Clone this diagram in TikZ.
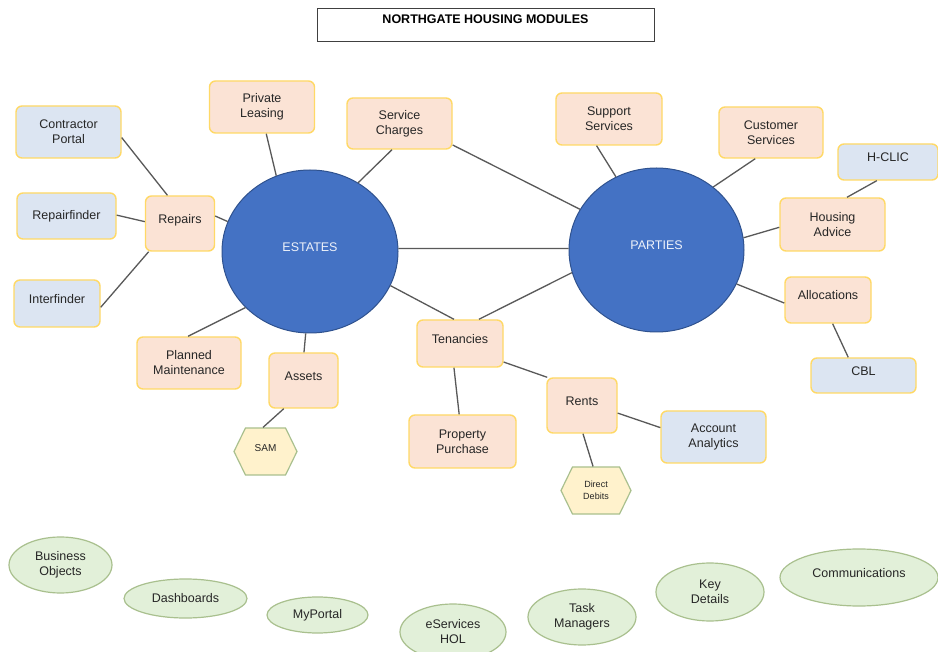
\documentclass[tikz,border=0pt]{standalone}
\usepackage{fontspec}
\setmainfont{Liberation Sans}
\usepackage{tikz}
\usetikzlibrary{shapes.geometric,shapes.symbols}

\definecolor{peach}{HTML}{FBE3D5}
\definecolor{boxgold}{HTML}{FFD966}
\definecolor{paleblue}{HTML}{DCE5F2}
\definecolor{hubblue}{HTML}{4472C4}
\definecolor{hubedge}{HTML}{2F528F}
\definecolor{hubtext}{HTML}{EEF2FA}
\definecolor{hexfill}{HTML}{FFF2CC}
\definecolor{hexedge}{HTML}{A9C08E}
\definecolor{ovalfill}{HTML}{E2F0D9}
\definecolor{ovaledge}{HTML}{A9C08E}
\definecolor{linkgray}{HTML}{595959}

\newcommand\modfont{\fontsize{12.5pt}{15pt}\selectfont}

\tikzset{
        module/.style={draw=boxgold, fill=peach, rounded corners=6pt, line width=1.4pt,
                align=center, inner sep=2pt, text=black!85, font=\modfont},
        tool/.style={module, fill=paleblue},
        hub/.style={ellipse, draw=hubedge, fill=hubblue, line width=1pt, inner sep=0pt,
                text=hubtext, font=\modfont},
        hexa/.style={signal, signal to=east and west, signal pointer angle=128,
                draw=hexedge, fill=hexfill, line width=1.2pt, align=center, inner sep=1pt,
                text=black!85},
        extra/.style={ellipse, draw=ovaledge, fill=ovalfill, line width=1.2pt,
                align=center, inner sep=0pt, text=black!85, font=\modfont},
        uptext/.style={text height=9pt, text depth=9pt},
        link/.style={draw=linkgray, line width=1.3pt}
}

\begin{document}
\begin{tikzpicture}[x=1pt, y=-1pt]
        \useasboundingbox[fill=white] (0,0) rectangle (938,652);

        % title
        \node[draw=black!75, line width=0.8pt, minimum width=337pt, minimum height=33pt,
                text height=12pt, text depth=13pt, inner sep=4pt,
                font=\bfseries\fontsize{12.5pt}{15pt}\selectfont] (title) at (485.5,24.5)
                {NORTHGATE HOUSING MODULES};

        % the two hubs
        \node[hub, uptext, minimum width=176pt, minimum height=163pt] (est) at (310,251.5) {ESTATES};
        \node[hub, uptext, minimum width=175pt, minimum height=164pt] (par) at (656.5,250) {PARTIES};

        % estates side
        \node[tool, minimum width=105pt, minimum height=52pt] (cp) at (68.5,132) {Contractor\\Portal};
        \node[module, minimum width=105pt, minimum height=52pt] (pl) at (262,107) {Private\\Leasing};
        \node[module, uptext, minimum width=69pt, minimum height=55pt] (rep) at (180,223.5) {Repairs};
        \node[tool, minimum width=99pt, minimum height=46pt] (rf) at (66.5,216) {Repairfinder};
        \node[tool, uptext, minimum width=86pt, minimum height=47pt] (inf) at (57,303.5) {Interfinder};
        \node[module, minimum width=104pt, minimum height=52pt] (pm) at (189,363) {Planned\\Maintenance};
        \node[module, uptext, minimum width=69pt, minimum height=55pt] (ass) at (303.5,380.5) {Assets};
        \node[hexa, uptext, minimum width=63pt, minimum height=47pt,
                font=\fontsize{10pt}{12pt}\selectfont] (sam) at (265.5,451.5) {SAM};
        \node[module, minimum width=105pt, minimum height=51pt] (sc) at (399.5,123.5) {Service\\Charges};

        % tenancies and rents
        \node[module, uptext, minimum width=86pt, minimum height=47pt] (ten) at (460,343.5) {Tenancies};
        \node[module, minimum width=107pt, minimum height=53pt] (pp) at (462.5,441.5) {Property\\Purchase};
        \node[module, uptext, minimum width=70pt, minimum height=55pt] (rent) at (582,405.5) {Rents};
        \node[hexa, minimum width=70pt, minimum height=47pt,
                font=\fontsize{9pt}{12pt}\selectfont] (dd) at (596,490.5) {Direct\\Debits};
        \node[tool, minimum width=105pt, minimum height=52pt] (aa) at (713.5,437) {Account\\Analytics};

        % parties side
        \node[module, minimum width=106pt, minimum height=52pt] (ss) at (609,119) {Support\\Services};
        \node[module, minimum width=104pt, minimum height=51pt] (cs) at (771,132.5) {Customer\\Services};
        \node[tool, uptext, minimum width=100pt, minimum height=36pt] (hc) at (888,162) {H-CLIC};
        \node[module, minimum width=105pt, minimum height=53pt] (ha) at (832.5,224.5) {Housing\\Advice};
        \node[module, uptext, minimum width=86pt, minimum height=46pt] (alloc) at (828,300) {Allocations};
        \node[tool, uptext, minimum width=105pt, minimum height=35pt] (cbl) at (863.5,375.5) {CBL};

        % connectors
        \foreach \from/\to in {cp.-6/rep.114, rf.1/rep.177, inf.-5/rep.222, rep.12/est.160,
                pl.-81/est.114, sc.254/est.55, sc.-22/par.152, est.2/par.179,
                est.-23/ten.104, par.195/ten.52, pm.92/est.221, ass.89/est.267,
                ass.235/sam.96, ten.256/pp.97, ten.-23/rent.141, rent.-88/dd.97,
                rent.-12/aa.170, ss.245/par.119, cs.239/par.48, hc.239/ha.62,
                ha.183/par.8, par.-23/alloc.184, alloc.-79/cbl.130}
                \draw[link] (\from) -- (\to);

        % shared modules along the bottom
        \node[extra, minimum width=103pt, minimum height=56pt] (bo) at (60.5,565) {Business\\Objects};
        \node[extra, minimum width=123pt, minimum height=39pt] (dash) at (185.5,598.5) {Dashboards};
        \node[extra, minimum width=101pt, minimum height=36pt] (myp) at (317.5,615) {MyPortal};
        \node[extra, minimum width=106pt, minimum height=56pt] (eser) at (453,632) {eServices\\HOL};
        \node[extra, minimum width=108pt, minimum height=56pt] (tm) at (582,617) {Task\\Managers};
        \node[extra, minimum width=108pt, minimum height=58pt] (kd) at (710,592) {Key\\Details};
        \node[extra, uptext, minimum width=158pt, minimum height=57pt] (comm) at (859,577.5) {Communications};
\end{tikzpicture}
\end{document}
